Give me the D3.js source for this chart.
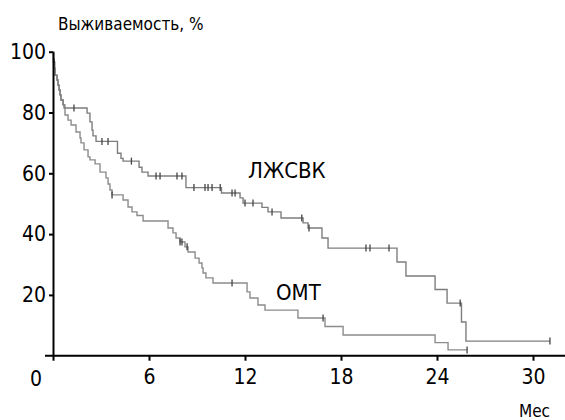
<!DOCTYPE html>
<html>
<head>
<meta charset="utf-8">
<script src="https://cdn.jsdelivr.net/npm/d3@7"></script>
<style>
  body { margin: 0; background: #fff; }
  svg text { font-family: "Liberation Sans Narrow", "DejaVu Sans Condensed", "Roboto", sans-serif; fill: #000; }
</style>
</head>
<body>
<div id="chart"></div>
<script>
// tick labels
var xTicks = [6, 12, 18, 24, 30];
var yTicks = [20, 40, 60, 80, 100];

// ЛЖСВК curve (months, survival %)
var lzTime = [0, 0.03, 0.1, 0.13, 0.25, 0.31, 0.38, 0.44, 0.5, 0.63, 0.69, 2.13, 2.31, 2.44, 2.5, 2.69, 4.03, 4.25, 4.38, 5.38, 5.56, 5.94, 8.31, 10.53, 11.69, 11.88, 13.06, 13.44, 14.25, 15.63, 15.94, 16.81, 17.19, 21.5, 22.06, 23.88, 24.63, 25.53, 25.81, 31.06];
var lzSurv = [100, 96.6, 94.6, 92.3, 90.7, 89.0, 87.4, 85.8, 84.1, 82.5, 81.5, 79.8, 76.9, 74.2, 72.3, 70.5, 66.6, 64.9, 64.0, 62.0, 60.4, 59.1, 55.3, 53.5, 51.9, 50.2, 48.8, 47.3, 45.3, 43.7, 42.0, 38.7, 35.4, 30.8, 26.2, 21.8, 17.3, 11.1, 4.8, 4.8];
var lzCensor = [0.06, 1.31, 3.06, 3.44, 4.9, 6.44, 6.69, 7.75, 8.06, 8.81, 9.5, 9.69, 9.94, 10.45, 11.19, 11.38, 12.0, 12.5, 13.69, 15.55, 16.0, 19.56, 19.81, 21.0, 25.45, 31.06];

// ОМТ curve
var omTime = [0, 0.03, 0.1, 0.13, 0.25, 0.31, 0.38, 0.44, 0.5, 0.63, 0.75, 0.94, 1.13, 1.44, 1.69, 1.75, 1.94, 2.19, 2.31, 2.63, 2.94, 3.31, 3.44, 3.56, 3.69, 4.38, 4.69, 4.94, 5.25, 5.63, 7.19, 7.5, 7.69, 7.94, 8.25, 8.44, 8.88, 9.13, 9.31, 9.38, 9.56, 10.0, 12.13, 12.31, 12.81, 13.25, 15.31, 17.0, 18.13, 23.88, 24.69, 25.88];
var omSurv = [100, 96.6, 94.6, 92.3, 90.7, 89.0, 87.4, 85.8, 84.1, 82.5, 79.2, 77.5, 75.9, 73.6, 71.6, 70.0, 67.7, 65.4, 64.4, 63.1, 60.4, 58.5, 56.5, 54.5, 52.9, 51.2, 48.9, 47.3, 46.1, 44.3, 42.0, 40.4, 38.7, 37.4, 35.8, 34.1, 32.1, 30.5, 28.9, 27.2, 25.6, 23.9, 21.0, 19.0, 16.7, 15.0, 12.4, 9.6, 6.8, 4.3, 1.9, 1.9];
var omCensor = [3.69, 7.94, 8.06, 8.38, 11.19, 16.88, 25.88];

var width = 565, height = 420;

var svg = d3.select("#chart").append("svg")
  .attr("width", width)
  .attr("height", height);

var x = d3.scaleLinear().domain([0, 32]).range([53, 565]);
var y = d3.scaleLinear().domain([0, 100]).range([355.7, 51.7]);

// survival at a given time (step lookup)
function survAt(times, surv, t) {
  var i = d3.bisectRight(times, t) - 1;
  return surv[Math.max(i, 0)];
}

var line = d3.line()
  .x(function(d) { return x(d[0]); })
  .y(function(d) { return y(d[1]); })
  .curve(d3.curveStepAfter);

function drawCurve(times, surv, censor, color) {
  var pts = times.map(function(t, i) { return [t, surv[i]]; });
  svg.append("path")
    .datum(pts)
    .attr("d", line)
    .attr("fill", "none")
    .attr("stroke", color)
    .attr("stroke-width", 1.4);

  svg.selectAll(null)
    .data(censor)
    .join("line")
    .attr("x1", function(d) { return x(d); })
    .attr("x2", function(d) { return x(d); })
    .attr("y1", function(d) { return y(survAt(times, surv, d)) - 3.5; })
    .attr("y2", function(d) { return y(survAt(times, surv, d)) + 3.5; })
    .attr("stroke", "#444")
    .attr("stroke-width", 1.3);
}

drawCurve(omTime, omSurv, omCensor, "#8c8c8c");
drawCurve(lzTime, lzSurv, lzCensor, "#7e7e7e");

// axes
var xAxis = svg.append("g")
  .attr("transform", "translate(0," + y(0) + ")")
  .call(d3.axisBottom(x).tickValues([0].concat(xTicks)).tickSize(5).tickSizeOuter(0).tickFormat(function(d) { return d === 0 ? "" : d; }));
xAxis.select(".domain").attr("stroke-width", 2).attr("d", "M45,0H565");
xAxis.selectAll(".tick line").attr("stroke-width", 2);
xAxis.selectAll(".tick text").attr("font-size", 21).attr("dy", "0.95em");

var yAxis = svg.append("g")
  .attr("transform", "translate(" + x(0) + ",0)")
  .call(d3.axisLeft(y).tickValues(yTicks).tickSize(4).tickSizeOuter(0));
yAxis.select(".domain").attr("stroke-width", 2);
yAxis.selectAll(".tick line").attr("stroke-width", 2);
yAxis.selectAll(".tick text").attr("font-size", 21).attr("x", -7);

svg.append("text")
  .attr("x", 36).attr("y", y(0) + 30)
  .attr("text-anchor", "middle")
  .attr("font-size", 21)
  .text("0");

svg.append("text")
  .attr("x", 58).attr("y", 30)
  .attr("font-size", 17)
  .text("Выживаемость, %");

svg.append("text")
  .attr("x", 550).attr("y", 417)
  .attr("text-anchor", "end")
  .attr("font-size", 17)
  .text("Мес");

svg.append("text")
  .attr("x", 248).attr("y", 178)
  .attr("font-size", 22)
  .text("ЛЖСВК");

svg.append("text")
  .attr("x", 276).attr("y", 300)
  .attr("font-size", 22)
  .text("ОМТ");
</script>
</body>
</html>
